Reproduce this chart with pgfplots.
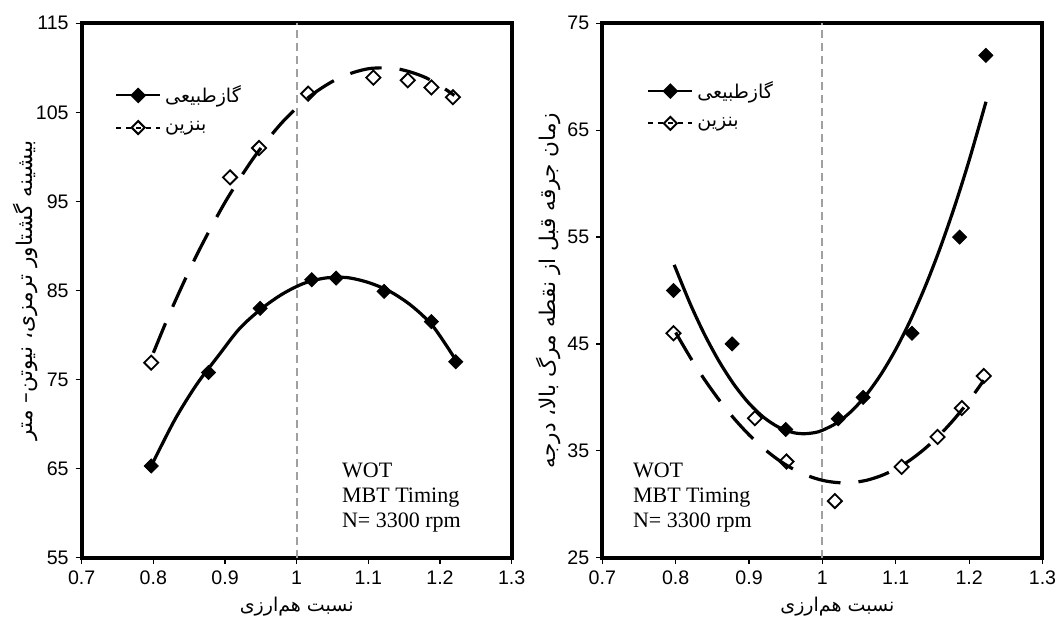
\documentclass[border=0pt]{standalone}
\usepackage{fontspec}
\setmainfont{Liberation Sans}
\newfontfamily\farsi[Script=Arabic]{DejaVu Sans}
\newfontfamily\timesfont{Liberation Serif}
\usepackage{pgfplots}
\pgfplotsset{compat=1.18}
\TeXXeTstate=1
\definecolor{vgray}{RGB}{160,160,160}
\pgfplotsset{
  myaxis/.style={
    scale only axis,
    height=267.2pt,
    xmin=0.7, xmax=1.3,
    xtick={0.7,0.8,0.9,1,1.1,1.2,1.3},
    xtick pos=left, ytick pos=left,
    tick align=outside,
    major tick length=3pt,
    axis line style={line width=2pt},
    every tick/.style={black, line width=0.6pt},
    tick label style={font=\fontsize{9.8}{11}\selectfont},
    /pgf/number format/assume math mode=true,
    xlabel style={font=\fontsize{9.5}{12}\selectfont},
    ylabel style={font=\fontsize{10.8}{13}\selectfont},
    legend style={draw=none, fill=none, inner sep=0pt, font=\fontsize{9.5}{12}\selectfont, cells={anchor=west}, row sep=4pt},
    legend image code/.code={\draw[mark repeat=2,mark phase=2,##1] plot coordinates {(0pt,0pt)(11pt,0pt)(22pt,0pt)};},
  },
  ngmark/.style={only marks, mark=square*, mark size=2.5pt, mark options={rotate=45, fill=black, solid}},
  gasmark/.style={only marks, mark=square, mark size=2.5pt, mark options={rotate=45, fill=white, solid, line width=0.9pt}},
  ngline/.style={black, line width=1.6pt, smooth, no marks},
  gasline/.style={black, line width=1.6pt, smooth, no marks, dash pattern=on 16pt off 9pt},
  vline/.style={vgray, line width=1pt, dash pattern=on 4pt off 2.5pt, no marks, forget plot},
}
\begin{document}
\begin{tikzpicture}
\begin{axis}[myaxis, width=215pt, at={(0pt,0pt)}, anchor=south west,
  ymin=55, ymax=115, ytick={55,65,75,85,95,105,115},
  xlabel={{\farsi\beginR نسبت هم‌ارزی\endR}},
  xlabel style={at={(axis description cs:0.5,0)}, anchor=center, yshift=-24.6pt},
  ylabel={{\farsi\beginR بیشینه گشتاور ترمزی، نیوتن– متر\endR}},
  ylabel style={at={(axis description cs:-0.13,0.5)}, anchor=center},
  legend style={at={(axis description cs:0.077,0.892)}, anchor=north west},
]
\addplot[vline] coordinates {(1,55) (1,115)};
\addplot[ngmark, forget plot] coordinates {(0.797,65.3) (0.877,75.8) (0.949,83.0) (1.021,86.2) (1.055,86.4) (1.122,84.9) (1.188,81.5) (1.222,77.0)};
\addplot[gasmark, forget plot] coordinates {(0.797,76.9) (0.907,97.7) (0.9475,101.0) (1.016,107.1) (1.107,108.9) (1.155,108.6) (1.188,107.8) (1.218,106.7)};
\addplot[ngline, forget plot] coordinates {(0.797,65.3) (0.83,70.5) (0.86,74.4) (0.89,77.6) (0.92,80.7) (0.95,82.9) (0.98,84.6) (1.01,85.8) (1.04,86.4) (1.07,86.45) (1.10,85.9) (1.13,84.9) (1.16,83.3) (1.19,81.0) (1.222,77.2)};
\addplot[gasline, forget plot] coordinates {(0.80,78.0) (0.82,81.9) (0.84,85.5) (0.86,88.9) (0.88,92.0) (0.90,94.9) (0.92,97.5) (0.94,99.9) (0.96,102.0) (0.98,103.9) (1.00,105.5) (1.02,106.9) (1.04,108.0) (1.06,108.9) (1.08,109.5) (1.10,109.9) (1.12,110.0) (1.14,109.9) (1.16,109.5) (1.18,108.9) (1.20,108.0) (1.22,106.9)};
\addlegendimage{black, line width=1pt, mark=square*, mark size=2.3pt, mark options={rotate=45, solid}}
\addlegendentry{{\farsi\beginR گازطبیعی\endR}}
\addlegendimage{black, line width=1pt, dash pattern=on 2.5pt off 2.5pt, mark=square, mark size=2.3pt, mark options={rotate=45, solid, fill=white}}
\addlegendentry{{\farsi\beginR بنزین\endR}}
\node[anchor=north west, inner sep=0pt, align=left, font=\timesfont\fontsize{11}{12.5}\selectfont] at (axis cs:1.0628,65.67) {WOT\\MBT Timing\\N= 3300 rpm};
\end{axis}
\begin{axis}[myaxis, width=220.1pt, at={(260.3pt,0pt)}, anchor=south west,
  ymin=25, ymax=75, ytick={25,35,45,55,65,75},
  xlabel={{\farsi\beginR نسبت هم‌ارزی\endR}},
  xlabel style={at={(axis description cs:0.534,0)}, anchor=center, yshift=-24.6pt},
  ylabel={{\farsi\beginR زمان جرقه قبل از نقطه مرگ بالا، درجه\endR}},
  ylabel style={at={(axis description cs:-0.122,0.5)}, anchor=center},
  legend style={at={(axis description cs:0.1015,0.9)}, anchor=north west},
]
\addplot[vline] coordinates {(1,25) (1,75)};
\addplot[ngmark, forget plot] coordinates {(0.797,50.0) (0.877,45.0) (0.950,37.0) (1.0215,38.0) (1.0556,40.0) (1.122,46.0) (1.187,55.0) (1.2228,72.0)};
\addplot[gasmark, forget plot] coordinates {(0.797,46.0) (0.908,38.05) (0.951,34.0) (1.017,30.3) (1.108,33.5) (1.157,36.3) (1.190,39.0) (1.22,42.0)};
\addplot[ngline, forget plot] coordinates {(0.798,52.4) (0.82,48.73) (0.84,45.80) (0.86,43.28) (0.88,41.16) (0.90,39.44) (0.92,38.13) (0.94,37.22) (0.96,36.71) (0.975,36.6) (0.99,36.71) (1.00,36.92) (1.02,37.62) (1.04,38.73) (1.06,40.25) (1.08,42.17) (1.10,44.49) (1.12,47.22) (1.14,50.35) (1.16,53.88) (1.18,57.82) (1.20,62.17) (1.223,67.66)};
\addplot[gasline, forget plot] coordinates {(0.80,46.07) (0.82,43.73) (0.84,41.60) (0.86,39.69) (0.88,37.99) (0.90,36.50) (0.92,35.22) (0.94,34.15) (0.96,33.30) (0.98,32.67) (1.00,32.24) (1.02,32.03) (1.04,32.03) (1.06,32.24) (1.08,32.67) (1.10,33.30) (1.12,34.15) (1.14,35.22) (1.16,36.50) (1.18,37.99) (1.20,39.69) (1.22,41.60)};
\addlegendimage{black, line width=1pt, mark=square*, mark size=2.3pt, mark options={rotate=45, solid}}
\addlegendentry{{\farsi\beginR گازطبیعی\endR}}
\addlegendimage{black, line width=1pt, dash pattern=on 2.5pt off 2.5pt, mark=square, mark size=2.3pt, mark options={rotate=45, solid, fill=white}}
\addlegendentry{{\farsi\beginR بنزین\endR}}
\node[anchor=north west, inner sep=0pt, align=left, font=\timesfont\fontsize{11}{12.5}\selectfont] at (axis cs:0.7414,33.9) {WOT\\MBT Timing\\N= 3300 rpm};
\end{axis}
\pgfresetboundingbox
\path (-40.85pt,-31.65pt) rectangle (487.15pt,278.85pt);
\end{tikzpicture}
\end{document}
